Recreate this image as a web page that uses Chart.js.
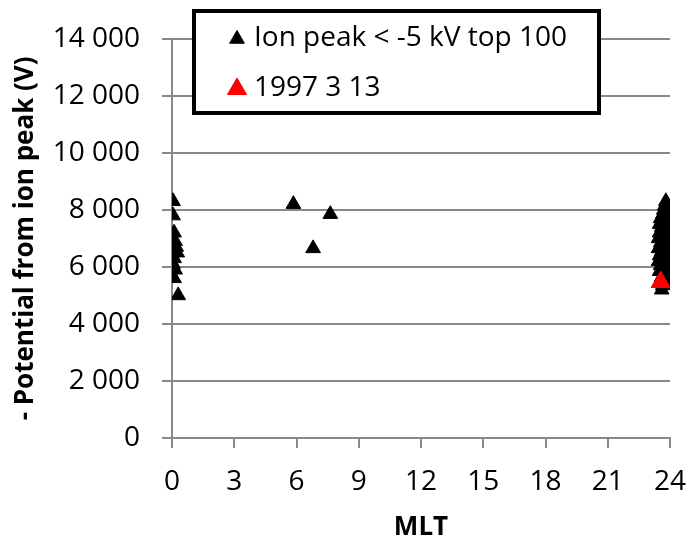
<!DOCTYPE html>
<html>
<head>
<meta charset="utf-8">
<script src="https://cdn.jsdelivr.net/npm/chart.js@4.4.1/dist/chart.umd.min.js"></script>
<style>
  html, body { margin: 0; padding: 0; background: #fff; }
  #wrap { width: 688px; height: 541px; }
</style>
</head>
<body>
<div id="wrap"><canvas id="mltChart" width="688" height="541"></canvas></div>
<script>
// ---- data ----
const topLabel = "Ion peak < -5 kV top 100";
const eventLabel = "1997 3 13";

// MLT (h) and -potential (V) of the ion-peak top 100
const topMlt = [
  0.05, 0.05, 0.10, 0.00, 0.15, 0.20, 0.10, 0.25, 0.10, 0.05, 0.15, 0.00, 0.10, 0.30,
  5.85, 6.80, 7.63,
  23.80, 23.75, 23.85, 23.70, 23.90, 23.65, 23.80, 23.55, 23.90, 23.70,
  23.50, 23.85, 23.60, 23.75, 23.95, 23.50, 23.65, 23.85, 23.45, 23.75,
  23.90, 23.55, 23.65, 23.80, 23.45, 23.95, 23.60, 23.70, 23.50, 23.85,
  23.65, 23.45, 23.75, 23.90, 23.55, 23.65, 23.80, 23.50, 23.90, 23.70,
  23.60, 23.85, 23.55, 23.75, 23.65, 23.60
];
const topPot = [
  8300, 7800, 7200, 7000, 6900, 6700, 6600, 6500, 6300, 6100, 5900, 5700, 5600, 5000,
  8200, 6650, 7850,
  8300, 8150, 8100, 8000, 7950, 7850, 7800, 7700, 7650, 7600,
  7500, 7450, 7400, 7350, 7300, 7200, 7150, 7100, 7000, 6950,
  6900, 6850, 6800, 6750, 6650, 6600, 6550, 6500, 6400, 6350,
  6300, 6200, 6150, 6100, 6050, 5950, 5900, 5850, 5800, 5700,
  5650, 5600, 5500, 5450, 5350, 5200
];

// the 1997-03-13 event
const eventMlt = [23.55];
const eventPot = [5470];

const xTicks = [0, 3, 6, 9, 12, 15, 18, 21, 24];

const FONT = "'Open Sans', 'Liberation Sans', sans-serif";
const GRID = "#898989";

function toPoints(xs, ys) {
  return xs.map((x, i) => ({ x: x, y: ys[i] }));
}

// thousands with a space, like "14 000"
function spaced(v) {
  return String(v).replace(/\B(?=(\d{3})+(?!\d))/g, " ");
}

function triangle(ctx, cx, cy, r) {
  ctx.beginPath();
  ctx.moveTo(cx, cy - r);
  ctx.lineTo(cx + r * 0.866, cy + r / 2);
  ctx.lineTo(cx - r * 0.866, cy + r / 2);
  ctx.closePath();
  ctx.fill();
  ctx.stroke();
}

// boxed legend sitting inside the plot, top right
const boxLegend = {
  id: "boxLegend",
  afterDraw(chart) {
    const ctx = chart.ctx;
    const a = chart.chartArea;
    const left = a.left + 22, top = 11, w = 405, h = 102;
    ctx.save();
    ctx.fillStyle = "#fff";
    ctx.fillRect(left, top, w, h);
    ctx.lineWidth = 4;
    ctx.strokeStyle = "#000";
    ctx.strokeRect(left, top, w, h);

    ctx.font = "28px " + FONT;
    ctx.textBaseline = "middle";
    ctx.textAlign = "left";
    chart.data.datasets.forEach((ds, i) => {
      const y = top + 27 + i * 50;
      ctx.fillStyle = ds.backgroundColor;
      ctx.strokeStyle = ds.borderColor;
      ctx.lineWidth = 1;
      triangle(ctx, left + 43, y + 1, ds.pointRadius);
      ctx.fillStyle = "#000";
      ctx.fillText(ds.label, left + 60, y);
    });
    ctx.restore();
  }
};

new Chart(document.getElementById("mltChart"), {
  type: "scatter",
  data: {
    datasets: [
      {
        label: topLabel,
        data: toPoints(topMlt, topPot),
        pointStyle: "triangle",
        pointRadius: 8.5,
        pointHoverRadius: 8.5,
        backgroundColor: "#000",
        borderColor: "#000",
        borderWidth: 1,
        order: 1
      },
      {
        label: eventLabel,
        data: toPoints(eventMlt, eventPot),
        pointStyle: "triangle",
        pointRadius: 11,
        pointHoverRadius: 11,
        backgroundColor: "#ff0000",
        borderColor: "#ff0000",
        borderWidth: 1,
        order: 0
      }
    ]
  },
  options: {
    responsive: false,
    animation: false,
    events: [],
    layout: { padding: { top: 36, right: 18, left: 0, bottom: 0 } },
    plugins: {
      legend: { display: false },
      tooltip: { enabled: false }
    },
    scales: {
      x: {
        type: "linear",
        min: 0,
        max: 24,
        afterBuildTicks: (s) => { s.ticks = xTicks.map((v) => ({ value: v })); },
        afterFit: (s) => { s.height = 103; s.paddingLeft = 0; s.paddingRight = 0; },
        grid: { drawOnChartArea: false, color: GRID, lineWidth: 2, tickLength: 10 },
        border: { color: GRID, width: 2 },
        ticks: { color: "#000", font: { family: FONT, size: 28 }, padding: 17, maxRotation: 0 },
        title: {
          display: true,
          text: "MLT",
          color: "#000",
          font: { family: FONT, size: 26, weight: "bold", lineHeight: 1 },
          padding: { top: 13, bottom: 0 }
        }
      },
      y: {
        min: 0,
        max: 14000,
        ticks: {
          stepSize: 2000,
          color: "#000",
          font: { family: FONT, size: 28 },
          padding: 22,
          callback: (v) => spaced(v)
        },
        afterFit: (s) => { s.width = 172; },
        grid: { color: GRID, lineWidth: 2, tickLength: 10 },
        border: { color: GRID, width: 2 },
        title: {
          display: true,
          text: "- Potential from ion peak (V)",
          color: "#000",
          font: { family: FONT, size: 26, weight: "bold" },
          padding: { top: 10, bottom: 0 }
        }
      }
    }
  },
  plugins: [boxLegend]
});
</script>
</body>
</html>
